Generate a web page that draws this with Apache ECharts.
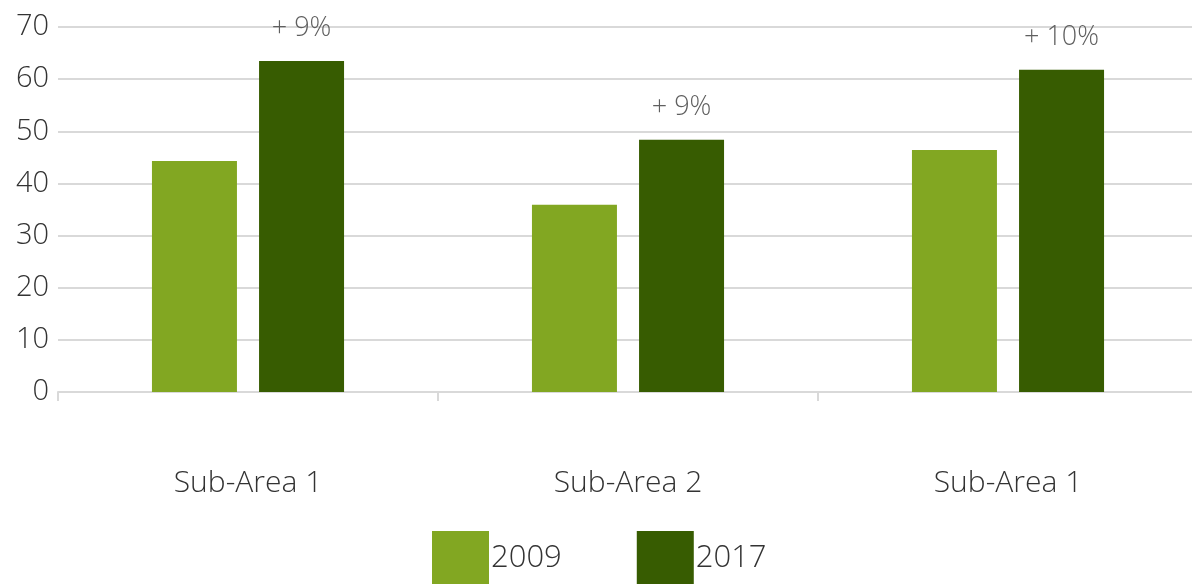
<!DOCTYPE html>
<html>
<head>
<meta charset="utf-8">
<script src="https://cdn.jsdelivr.net/npm/echarts@6/dist/echarts.min.js"></script>
<style>
  html, body { margin: 0; padding: 0; background: #fff; }
  #chart { width: 1192px; height: 584px; }
</style>
</head>
<body>
<div id="chart"></div>
<script>
// Chart data
const categories = ['Sub-Area 1', 'Sub-Area 2', 'Sub-Area 1'];
const values2009 = [44.3, 35.9, 46.4];
const values2017 = [63.5, 48.4, 61.8];
const changeLabels = ['+ 9%', '+ 9%', '+ 10%'];
const seriesNames = ['2009', '2017'];

const FONT = '"Open Sans", Lato, sans-serif';
const WEIGHT = 300;
const TEXT = '#333333';

const chart = echarts.init(document.getElementById('chart'), null, { renderer: 'canvas' });

chart.setOption({
  animation: false,
  backgroundColor: '#ffffff',
  // plot runs slightly past the right edge of the canvas
  grid: { left: 58, right: -6, top: 27, bottom: 192, containLabel: false, outerBoundsMode: 'none' },
  legend: {
    left: 432,
    top: 531,
    padding: 0,
    itemWidth: 57,
    itemHeight: 54,
    itemGap: 75,
    icon: 'rect',
    textStyle: { fontFamily: FONT, fontWeight: WEIGHT, fontSize: 31, color: TEXT, padding: [0, 0, 0, -3] },
    data: seriesNames
  },
  xAxis: {
    type: 'category',
    data: categories,
    axisLine: { lineStyle: { color: '#d9d9d9', width: 2 } },
    axisTick: { show: true, length: 9, lineStyle: { color: '#d9d9d9', width: 2 } },
    axisLabel: { margin: 76, fontFamily: FONT, fontWeight: WEIGHT, fontSize: 30, color: TEXT }
  },
  yAxis: {
    type: 'value',
    min: 0,
    max: 70,
    interval: 10,
    axisLine: { show: false },
    axisTick: { show: false },
    splitLine: { lineStyle: { color: '#d9d9d9', width: 2 } },
    axisLabel: { margin: 9, fontFamily: FONT, fontWeight: WEIGHT, fontSize: 29, color: TEXT }
  },
  series: [
    {
      name: seriesNames[0],
      type: 'bar',
      data: values2009,
      barWidth: 85,
      barGap: '26%',
      itemStyle: { color: '#82a722' }
    },
    {
      name: seriesNames[1],
      type: 'bar',
      data: values2017,
      barWidth: 85,
      itemStyle: { color: '#375c01' },
      label: {
        show: true,
        position: 'top',
        distance: 19,
        fontFamily: FONT,
        fontWeight: WEIGHT,
        fontSize: 27,
        color: '#5f5f5f',
        formatter: p => changeLabels[p.dataIndex]
      }
    }
  ]
});
</script>
</body>
</html>
